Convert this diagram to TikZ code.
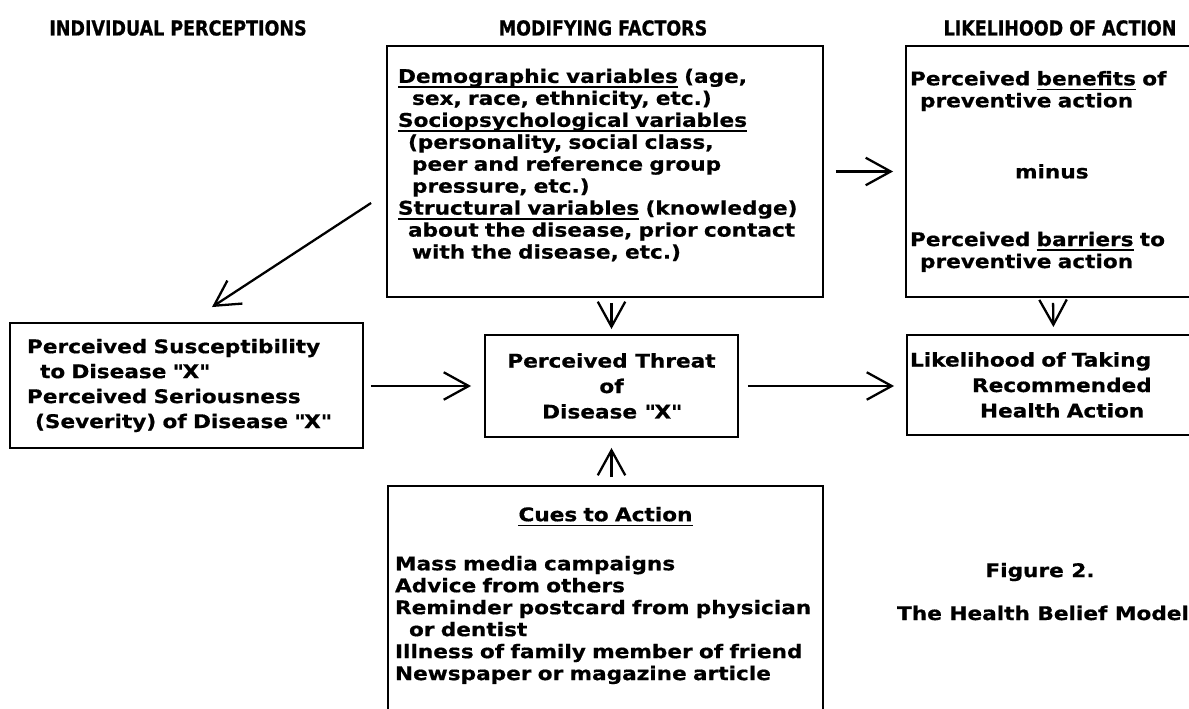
\documentclass[tikz,border=0pt]{standalone}
\usepackage{fontspec}
\setmainfont{DejaVu Sans}[FakeStretch=1.15, BoldFeatures={FakeBold=0.6}]
\newfontfamily\headfont{DejaVu Sans}[FakeStretch=0.85, BoldFeatures={FakeBold=0.8}]
\usetikzlibrary{arrows.meta}
\newcommand{\bodyfont}{\fontsize{10.7}{12.5}\selectfont\bfseries}
\newcommand{\ind}{\hspace*{0.28cm}}
\newcommand{\qX}{\textquotedbl X\textquotedbl}
\newsavebox{\undlbox}
\newcommand{\undl}[1]{\leavevmode\sbox\undlbox{#1}\rlap{\rule[-2.8pt]{\wd\undlbox}{0.9pt}}\usebox\undlbox}
\tikzstyle{block} = [rectangle, draw, line width=1.1pt, inner sep=0pt, align=left, font=\bodyfont]
\tikzstyle{head} = [font=\headfont\fontsize{11.7}{13}\selectfont\bfseries]
\tikzstyle{plain} = [font=\bodyfont]
\tikzstyle{arrow} = [line width=1.3pt, -{Straight Barb[length=0.5cm,width=0.55cm]}]

\begin{document}
\begin{tikzpicture}[x=0.02cm, y=-0.02cm]
\useasboundingbox (0,0) rectangle (1189,709);

\node (hd_ind) [head] at (178,28) {INDIVIDUAL PERCEPTIONS};
\node (hd_mod) [head] at (603,28) {MODIFYING FACTORS};
\node (hd_act) [head] at (1060,28) {LIKELIHOOD OF ACTION};

\node (mods) [block, minimum width=8.72cm, minimum height=5.02cm, text width=8.28cm, inner xsep=0.22cm] at (605,171.5)
{\undl{Demographic variables} (age,\\
\ind sex, race, ethnicity, etc.)\\
\undl{Sociopsychological variables}\\
\hspace*{0.2cm}(personality, social class,\\
\ind peer and reference group\\
\ind pressure, etc.)\\
\undl{Structural variables} (knowledge)\\
\hspace*{0.2cm}about the disease, prior contact\\
\ind with the disease, etc.)\rule[-9pt]{0pt}{0pt}};

\node (benef) [block, minimum width=5.88cm, minimum height=5.02cm, text width=5.72cm, inner xsep=0.08cm] at (1053,171.5)
{Perceived \undl{benefits} of\\
\hspace*{0.2cm}preventive action\\[28pt]
\hspace*{2.1cm}minus\\[26pt]
Perceived \undl{barriers} to\\
\hspace*{0.2cm}preventive action};

\node (indiv) [block, minimum width=7.06cm, minimum height=2.5cm, text width=6.38cm, inner xsep=0.34cm] at (186.5,385.5)
{Perceived Susceptibility\\[1.7pt]
\hspace*{0.26cm}to Disease \qX\\[1.7pt]
Perceived Seriousness\\[1.7pt]
\hspace*{0.16cm}(Severity) of Disease \qX};

\node (threat) [block, align=center, minimum width=5.06cm, minimum height=2.04cm] at (611.5,386)
{Perceived Threat\\[2pt] of\\[2pt] Disease \qX};

\node (taking) [block, minimum width=5.86cm, minimum height=2.0cm, text width=5.74cm, inner xsep=0.06cm] at (1053.5,385)
{Likelihood of Taking\\[2pt]
\hspace*{1.24cm}Recommended\\[2pt]
\hspace*{1.4cm}Health Action};

\node (cues) [block, anchor=north, minimum width=8.7cm, text width=8.42cm, inner xsep=0.14cm, inner ysep=0.42cm] at (605.5,485)
{\makebox[\linewidth]{\undl{Cues to Action}}\\[15.4pt]
Mass media campaigns\\
Advice from others\\
Reminder postcard from physician\\
\ind or dentist\\
Illness of family member of friend\\
Newspaper or magazine article\\[20pt]
\mbox{}};

\node (fig) [plain] at (1040,572) {Figure 2.};
\node (figttl) [plain] at (1043,613) {The Health Belief Model};

\draw [arrow] ([xshift=0.24cm]mods.east) -- ([xshift=-0.24cm]benef.west);
\draw [arrow] ([xshift=-0.3cm,yshift=-0.63cm]mods.west) -- ([xshift=0.51cm,yshift=0.3cm]indiv.north);
\draw [arrow, shorten <=0.14cm, shorten >=0.26cm] (indiv.east |- threat.west) -- (threat.west);
\draw [arrow, shorten <=0.1cm, shorten >=0.1cm] (threat.north |- mods.south) -- (threat.north);
\draw [arrow, shorten <=0.18cm, shorten >=0.24cm] (threat.east) -- (threat.east -| taking.west);
\draw [arrow, shorten <=0.1cm, shorten >=0.14cm] (benef.south) -- (taking.north);
\draw [arrow, shorten <=0.16cm, shorten >=0.2cm] (cues.north -| threat.south) -- (threat.south);

\end{tikzpicture}
\end{document}
